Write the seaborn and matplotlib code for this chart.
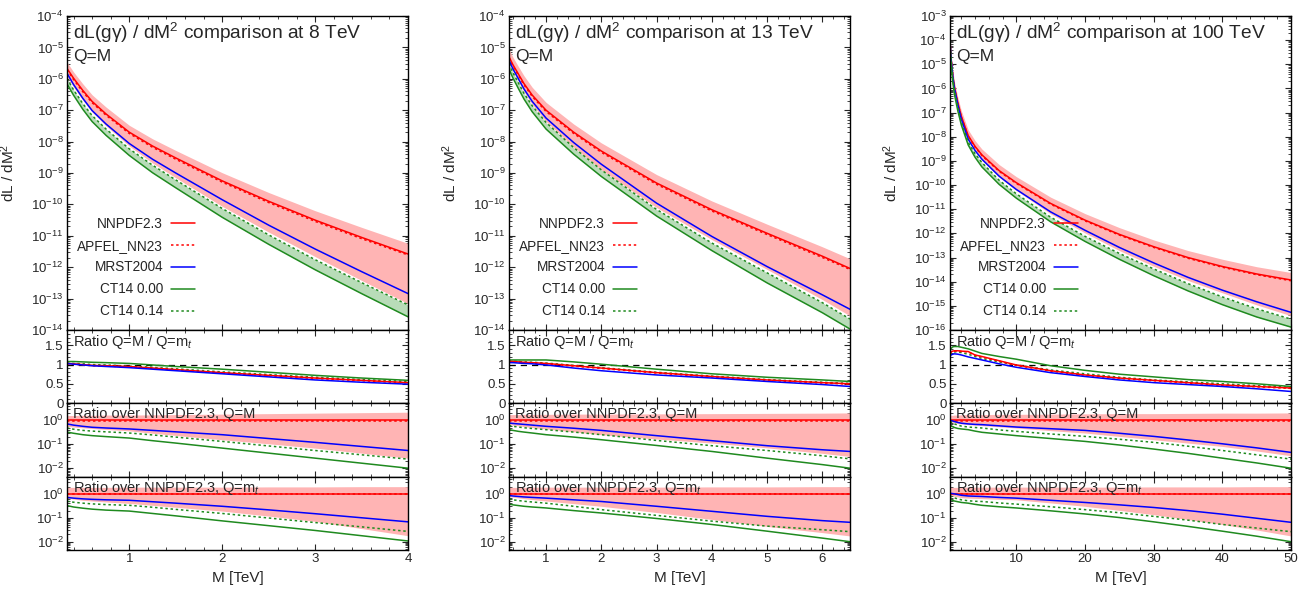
"""
dL(g gamma)/dM^2 comparison at 8, 13 and 100 TeV, with ratio panels.
Output: out.png
"""
import matplotlib
matplotlib.use('Agg')
import matplotlib.pyplot as plt
import matplotlib.ticker as mticker
import seaborn as sns
import numpy as np

sns.set_theme(style='ticks')
plt.rcParams.update({
    'font.family': ['Liberation Sans', 'DejaVu Sans'],
    'mathtext.fontset': 'custom',
    'mathtext.rm': 'Liberation Sans',
    'mathtext.it': 'Liberation Sans:italic',
    'mathtext.bf': 'Liberation Sans:bold',
    'xtick.direction': 'in', 'ytick.direction': 'in',
    'xtick.top': True, 'ytick.right': True,
    'axes.linewidth': 1.0, 'axes.edgecolor': 'black',
    'savefig.facecolor': 'white',
})

# ---------------- data (log10 values for the log panels) ----------------
# 8 TeV
M8 = [0.33, 0.4, 0.5, 0.6, 0.75, 1.0, 1.25, 1.5, 2.0, 2.5, 3.0, 3.5, 4.0]
nn8 = [-5.67, -5.98, -6.37, -6.72, -7.12, -7.7, -8.14, -8.52, -9.25, -9.9, -10.5, -11.05, -11.58]
ap8 = [-5.71, -6.02, -6.41, -6.76, -7.16, -7.74, -8.18, -8.56, -9.29, -9.94, -10.54, -11.09, -11.61]
mr8 = [-5.82, -6.18, -6.62, -7.01, -7.44, -8.06, -8.56, -9.0, -9.85, -10.66, -11.42, -12.14, -12.84]
ct0_8 = [-6.16, -6.52, -6.97, -7.36, -7.8, -8.44, -8.99, -9.47, -10.41, -11.27, -12.08, -12.84, -13.58]
ct14_8 = [-5.99, -6.35, -6.79, -7.17, -7.6, -8.23, -8.75, -9.22, -10.13, -10.97, -11.76, -12.49, -13.2]
nnhi8 = [-5.47, -5.78, -6.16, -6.51, -6.9, -7.48, -7.91, -8.28, -8.99, -9.62, -10.2, -10.73, -11.24]
nnlo8 = [-5.92, -6.26, -6.68, -7.06, -7.5, -8.14, -8.68, -9.15, -10.06, -10.88, -11.66, -12.42, -13.16]
# ratio Q=M / Q=mt (linear)
q_nn8 = [1.03, 1.02, 1.0, 0.98, 0.97, 0.95, 0.91, 0.87, 0.79, 0.72, 0.65, 0.59, 0.53]
q_ap8 = [1.02, 1.01, 0.99, 0.97, 0.96, 0.94, 0.9, 0.86, 0.78, 0.71, 0.64, 0.58, 0.52]
q_mr8 = [1.03, 1.01, 0.99, 0.97, 0.95, 0.92, 0.88, 0.84, 0.76, 0.68, 0.6, 0.54, 0.49]
q_ct0_8 = [1.08, 1.08, 1.07, 1.06, 1.05, 1.03, 0.99, 0.95, 0.88, 0.8, 0.72, 0.65, 0.59]
q_ct14_8 = [1.04, 1.03, 1.02, 1.0, 0.99, 0.96, 0.93, 0.89, 0.81, 0.74, 0.67, 0.61, 0.56]
# ratio over NNPDF2.3, Q=M (log10)
rm_ap8 = [-0.01, -0.01, -0.01, -0.01, -0.01, -0.01, -0.01, -0.01, -0.01, -0.01, -0.01, -0.01, -0.01]
rm_mr8 = [-0.15, -0.2, -0.25, -0.29, -0.32, -0.36, -0.42, -0.48, -0.6, -0.76, -0.92, -1.09, -1.26]
rm_ct0_8 = [-0.49, -0.54, -0.6, -0.64, -0.68, -0.74, -0.85, -0.95, -1.16, -1.37, -1.58, -1.79, -2.0]
rm_ct14_8 = [-0.32, -0.37, -0.42, -0.45, -0.48, -0.53, -0.61, -0.7, -0.88, -1.07, -1.26, -1.44, -1.62]
rm_hi8 = [0.2, 0.2, 0.21, 0.21, 0.22, 0.22, 0.23, 0.24, 0.26, 0.28, 0.3, 0.32, 0.34]
rm_lo8 = [-0.25, -0.28, -0.31, -0.34, -0.38, -0.44, -0.54, -0.63, -0.81, -0.98, -1.16, -1.37, -1.58]
# ratio over NNPDF2.3, Q=mt (log10)
rt_mr8 = [-0.15, -0.18, -0.21, -0.23, -0.25, -0.27, -0.33, -0.39, -0.52, -0.67, -0.83, -1.0, -1.17]
rt_ct0_8 = [-0.49, -0.55, -0.6, -0.64, -0.68, -0.72, -0.82, -0.92, -1.13, -1.33, -1.53, -1.75, -1.97]
rt_ct14_8 = [-0.31, -0.35, -0.39, -0.42, -0.45, -0.48, -0.56, -0.65, -0.82, -1.01, -1.2, -1.38, -1.57]
rt_hi8 = [0.27, 0.27, 0.27, 0.27, 0.27, 0.28, 0.28, 0.28, 0.28, 0.29, 0.29, 0.3, 0.3]
rt_lo8 = [-0.18, -0.22, -0.27, -0.3, -0.34, -0.4, -0.48, -0.56, -0.72, -0.93, -1.15, -1.45, -1.75]

# 13 TeV
M13 = [0.33, 0.4, 0.5, 0.6, 0.75, 1.0, 1.5, 2.0, 3.0, 4.0, 5.0, 6.0, 6.5]
nn13 = [-5.3, -5.55, -5.85, -6.15, -6.52, -7.0, -7.7, -8.3, -9.32, -10.17, -10.92, -11.65, -12.04]
ap13 = [-5.34, -5.59, -5.89, -6.19, -6.56, -7.04, -7.74, -8.34, -9.36, -10.21, -10.96, -11.69, -12.07]
mr13 = [-5.41, -5.68, -6.0, -6.32, -6.72, -7.25, -8.03, -8.72, -9.96, -11.02, -11.98, -12.88, -13.34]
ct0_13 = [-5.69, -5.97, -6.31, -6.64, -7.05, -7.6, -8.4, -9.11, -10.37, -11.47, -12.5, -13.45, -13.97]
ct14_13 = [-5.52, -5.8, -6.13, -6.46, -6.86, -7.39, -8.19, -8.9, -10.16, -11.23, -12.18, -13.13, -13.65]
nnhi13 = [-5.06, -5.31, -5.61, -5.9, -6.27, -6.75, -7.44, -8.04, -9.05, -9.89, -10.63, -11.35, -11.73]
nnlo13 = [-5.48, -5.75, -6.08, -6.41, -6.82, -7.36, -8.18, -8.9, -10.1, -11.12, -12.07, -13.03, -13.55]
q_nn13 = [1.08, 1.08, 1.07, 1.06, 1.05, 1.03, 0.97, 0.91, 0.79, 0.69, 0.6, 0.53, 0.5]
q_ap13 = [1.07, 1.07, 1.06, 1.05, 1.04, 1.02, 0.96, 0.9, 0.78, 0.68, 0.59, 0.52, 0.49]
q_mr13 = [1.05, 1.05, 1.04, 1.03, 1.02, 0.99, 0.91, 0.84, 0.73, 0.65, 0.56, 0.48, 0.43]
q_ct0_13 = [1.12, 1.12, 1.12, 1.12, 1.12, 1.12, 1.07, 1.01, 0.88, 0.76, 0.67, 0.6, 0.56]
q_ct14_13 = [1.09, 1.09, 1.08, 1.07, 1.06, 1.04, 0.98, 0.92, 0.8, 0.7, 0.61, 0.54, 0.51]
rm_ap13 = [-0.01, -0.01, -0.01, -0.01, -0.01, -0.01, -0.01, -0.01, -0.01, -0.01, -0.01, -0.01, -0.01]
rm_mr13 = [-0.11, -0.13, -0.15, -0.17, -0.2, -0.25, -0.33, -0.42, -0.64, -0.85, -1.06, -1.23, -1.3]
rm_ct0_13 = [-0.39, -0.42, -0.46, -0.49, -0.53, -0.6, -0.7, -0.81, -1.05, -1.3, -1.58, -1.85, -2.0]
rm_ct14_13 = [-0.22, -0.25, -0.28, -0.31, -0.34, -0.39, -0.49, -0.6, -0.84, -1.06, -1.26, -1.48, -1.61]
rm_hi13 = [0.24, 0.24, 0.24, 0.25, 0.25, 0.25, 0.26, 0.26, 0.27, 0.28, 0.29, 0.3, 0.31]
rm_lo13 = [-0.18, -0.2, -0.23, -0.26, -0.3, -0.36, -0.48, -0.6, -0.78, -0.95, -1.15, -1.38, -1.51]
rt_mr13 = [-0.07, -0.09, -0.11, -0.13, -0.15, -0.18, -0.25, -0.32, -0.52, -0.73, -0.94, -1.12, -1.19]
rt_ct0_13 = [-0.43, -0.46, -0.49, -0.52, -0.55, -0.59, -0.7, -0.8, -1.03, -1.28, -1.56, -1.85, -2.0]
rt_ct14_13 = [-0.22, -0.25, -0.28, -0.31, -0.34, -0.39, -0.52, -0.66, -0.9, -1.14, -1.35, -1.5, -1.58]
rt_hi13 = [0.27, 0.27, 0.27, 0.27, 0.28, 0.28, 0.28, 0.28, 0.28, 0.29, 0.29, 0.3, 0.3]
rt_lo13 = [-0.11, -0.14, -0.17, -0.2, -0.24, -0.3, -0.41, -0.52, -0.78, -1.07, -1.36, -1.62, -1.76]

# 100 TeV
M100 = [0.35, 0.5, 0.75, 1, 1.5, 2, 3, 4, 5, 7.5, 10, 15, 20, 25, 30, 35, 40, 45, 50]
nn100 = [-4.0, -4.75, -5.45, -5.95, -6.6, -7.15, -7.95, -8.4, -8.75, -9.4, -9.9, -10.76, -11.45,
         -12.04, -12.55, -13.0, -13.37, -13.68, -13.93]
ap100 = [-4.03, -4.78, -5.48, -5.98, -6.63, -7.18, -7.98, -8.43, -8.78, -9.43, -9.93, -10.79, -11.48,
         -12.07, -12.58, -13.03, -13.4, -13.71, -13.96]
mr100 = [-4.0, -4.76, -5.48, -6.0, -6.69, -7.27, -8.1, -8.57, -8.93, -9.63, -10.18, -11.11, -11.87,
         -12.58, -13.22, -13.82, -14.35, -14.83, -15.27]
ct0_100 = [-4.18, -4.97, -5.72, -6.25, -6.94, -7.51, -8.34, -8.85, -9.25, -9.97, -10.54, -11.52, -12.33,
           -13.07, -13.75, -14.38, -14.95, -15.46, -15.88]
ct14_100 = [-4.04, -4.82, -5.57, -6.1, -6.8, -7.39, -8.23, -8.7, -9.07, -9.8, -10.36, -11.33, -12.12,
            -12.83, -13.47, -14.08, -14.63, -15.12, -15.55]
nnhi100 = [-3.8, -4.54, -5.24, -5.73, -6.38, -6.92, -7.71, -8.16, -8.51, -9.15, -9.65, -10.5, -11.18,
           -11.76, -12.27, -12.71, -13.07, -13.38, -13.62]
nnlo100 = [-4.04, -4.81, -5.53, -6.05, -6.73, -7.3, -8.13, -8.6, -8.97, -9.67, -10.22, -11.19, -11.98,
           -12.71, -13.36, -13.95, -14.46, -14.96, -15.41]
q_nn100 = [1.29, 1.33, 1.35, 1.36, 1.36, 1.35, 1.34, 1.25, 1.21, 1.1, 0.99, 0.84, 0.73, 0.65, 0.59,
           0.53, 0.47, 0.43, 0.39]
q_ap100 = [1.28, 1.32, 1.34, 1.35, 1.35, 1.34, 1.33, 1.24, 1.2, 1.09, 0.98, 0.83, 0.72, 0.64, 0.58,
           0.52, 0.46, 0.42, 0.38]
q_mr100 = [1.21, 1.25, 1.27, 1.28, 1.27, 1.25, 1.2, 1.16, 1.12, 1.02, 0.93, 0.79, 0.69, 0.6, 0.53,
           0.48, 0.43, 0.37, 0.3]
q_ct0_100 = [1.34, 1.42, 1.46, 1.47, 1.47, 1.45, 1.41, 1.35, 1.29, 1.21, 1.14, 0.97, 0.85, 0.75, 0.68,
             0.61, 0.56, 0.5, 0.43]
q_ct14_100 = [1.25, 1.29, 1.32, 1.33, 1.33, 1.31, 1.27, 1.21, 1.16, 1.07, 0.99, 0.86, 0.76, 0.67, 0.6,
              0.55, 0.5, 0.45, 0.41]
rm_ap100 = [-0.01, -0.01, -0.01, -0.01, -0.01, -0.01, -0.01, -0.01, -0.01, -0.01, -0.01, -0.01, -0.01,
            -0.01, -0.01, -0.01, -0.01, -0.01, -0.01]
rm_mr100 = [0.0, -0.01, -0.03, -0.05, -0.09, -0.12, -0.15, -0.17, -0.18, -0.23, -0.28, -0.35, -0.42,
            -0.54, -0.67, -0.82, -0.98, -1.15, -1.34]
rm_ct0_100 = [-0.18, -0.22, -0.27, -0.3, -0.34, -0.36, -0.39, -0.45, -0.5, -0.57, -0.64, -0.76, -0.88,
              -1.03, -1.2, -1.38, -1.58, -1.78, -2.0]
rm_ct14_100 = [-0.04, -0.07, -0.12, -0.15, -0.2, -0.24, -0.28, -0.3, -0.32, -0.4, -0.46, -0.57, -0.67,
               -0.79, -0.92, -1.08, -1.26, -1.44, -1.62]
rm_hi100 = [0.2, 0.21, 0.21, 0.22, 0.22, 0.23, 0.24, 0.24, 0.24, 0.25, 0.25, 0.26, 0.27, 0.28, 0.28,
            0.29, 0.3, 0.3, 0.31]
rm_lo100 = [-0.04, -0.06, -0.08, -0.1, -0.13, -0.15, -0.18, -0.2, -0.22, -0.27, -0.32, -0.43, -0.53,
            -0.67, -0.81, -0.95, -1.09, -1.28, -1.48]
rt_mr100 = [0.03, 0.02, 0.01, 0.0, -0.03, -0.06, -0.09, -0.1, -0.11, -0.15, -0.18, -0.27, -0.36,
            -0.46, -0.57, -0.7, -0.85, -1.02, -1.19]
rt_ct0_100 = [-0.22, -0.25, -0.28, -0.3, -0.33, -0.36, -0.39, -0.44, -0.48, -0.54, -0.59, -0.71, -0.84,
              -0.99, -1.17, -1.36, -1.56, -1.77, -2.0]
rt_ct14_100 = [-0.08, -0.11, -0.14, -0.17, -0.21, -0.25, -0.29, -0.31, -0.32, -0.38, -0.43, -0.54, -0.66,
               -0.79, -0.94, -1.1, -1.28, -1.43, -1.58]
rt_hi100 = [0.26, 0.27, 0.27, 0.27, 0.27, 0.27, 0.28, 0.28, 0.28, 0.28, 0.28, 0.28, 0.28, 0.28, 0.29,
            0.29, 0.29, 0.3, 0.3]
rt_lo100 = [-0.04, -0.06, -0.08, -0.1, -0.13, -0.16, -0.18, -0.19, -0.2, -0.23, -0.25, -0.38, -0.52,
            -0.69, -0.87, -1.07, -1.28, -1.51, -1.76]

energies = ['8', '13', '100']
labels = ['NNPDF2.3', 'APFEL_NN23', 'MRST2004', 'CT14 0.00', 'CT14 0.14']

RED, BLUE, GREEN = '#ff0000', '#0000ff', '#1f8a1f'
PINK, LGREEN = '#ffb4b4', '#b8dcb8'
DOT = (0, (1.6, 1.8))

cols = [
    dict(M=M8, main=(nn8, ap8, mr8, ct0_8, ct14_8, nnhi8, nnlo8),
         q=(q_nn8, q_ap8, q_mr8, q_ct0_8, q_ct14_8),
         rm=(rm_ap8, rm_mr8, rm_ct0_8, rm_ct14_8, rm_hi8, rm_lo8),
         rt=(rm_ap8, rt_mr8, rt_ct0_8, rt_ct14_8, rt_hi8, rt_lo8),
         xlim=(0.33, 4.0), xmaj=1, xmin=0.2, dec=(-14, -4), left=67),
    dict(M=M13, main=(nn13, ap13, mr13, ct0_13, ct14_13, nnhi13, nnlo13),
         q=(q_nn13, q_ap13, q_mr13, q_ct0_13, q_ct14_13),
         rm=(rm_ap13, rm_mr13, rm_ct0_13, rm_ct14_13, rm_hi13, rm_lo13),
         rt=(rm_ap13, rt_mr13, rt_ct0_13, rt_ct14_13, rt_hi13, rt_lo13),
         xlim=(0.33, 6.5), xmaj=1, xmin=0.2, dec=(-14, -4), left=509),
    dict(M=M100, main=(nn100, ap100, mr100, ct0_100, ct14_100, nnhi100, nnlo100),
         q=(q_nn100, q_ap100, q_mr100, q_ct0_100, q_ct14_100),
         rm=(rm_ap100, rm_mr100, rm_ct0_100, rm_ct14_100, rm_hi100, rm_lo100),
         rt=(rm_ap100, rt_mr100, rt_ct0_100, rt_ct14_100, rt_hi100, rt_lo100),
         xlim=(0.35, 50), xmaj=10, xmin=2, dec=(-16, -3), left=950),
]

W, H = 1313, 590
TICK_FS = 9.5
fig = plt.figure(figsize=(W / 100, H / 100), dpi=100)


def pax(left, top, bottom, width=341):
    return fig.add_axes([left / W, 1 - bottom / H, width / W, (bottom - top) / H])


def style_log(ax, lo, hi, vmin, vmax):
    # only ticks inside the visible range
    ax.set_yscale('log')
    major = [10.0 ** k for k in range(lo, hi + 1)]
    minor = [m * 10.0 ** k for k in range(lo - 1, hi + 1) for m in range(2, 10)]
    minor = [v for v in minor if vmin <= v <= vmax]
    ax.yaxis.set_major_locator(mticker.FixedLocator(major))
    ax.yaxis.set_major_formatter(mticker.LogFormatterSciNotation())
    ax.yaxis.set_minor_locator(mticker.FixedLocator(minor))
    ax.yaxis.set_minor_formatter(mticker.NullFormatter())
    ax.set_ylim(vmin, vmax)


def line(ax, x, y, color, ls='-', lw=1.1):
    sns.lineplot(x=x, y=y, ax=ax, color=color, linestyle=ls, linewidth=lw,
                 sort=False, estimator=None, legend=False)


for i, c in enumerate(cols):
    M = np.array(c['M'])
    ax0 = pax(c['left'], 16, 330)
    ax1 = pax(c['left'], 330, 403)
    ax2 = pax(c['left'], 403, 476.5)
    ax3 = pax(c['left'], 476.5, 550)
    axes = [ax0, ax1, ax2, ax3]

    # --- main panel ---
    nn, ap, mr, ct0, ct14, hi, lo = [10 ** np.array(v) for v in c['main']]
    ax0.fill_between(M, lo, hi, color=PINK, lw=0, zorder=1)
    ax0.fill_between(M, ct0, ct14, color=LGREEN, lw=0, zorder=1)
    line(ax0, M, nn, RED)
    line(ax0, M, ap, RED, DOT)
    line(ax0, M, mr, BLUE)
    line(ax0, M, ct0, GREEN)
    line(ax0, M, ct14, GREEN, DOT)
    d0, d1 = c['dec']
    style_log(ax0, d0, d1, 10.0 ** d0, 10.0 ** d1)
    ax0.text(0.018, 0.946, f'dL(gγ) / dM$^2$ comparison at {energies[i]} TeV',
             transform=ax0.transAxes, fontsize=13.8, va='center', ha='left')
    ax0.text(0.018, 0.872, 'Q=M', transform=ax0.transAxes, fontsize=12.5,
             va='center', ha='left')
    handles = [
        plt.Line2D([], [], color=RED, lw=1.1),
        plt.Line2D([], [], color=RED, lw=1.1, ls=DOT),
        plt.Line2D([], [], color=BLUE, lw=1.1),
        plt.Line2D([], [], color=GREEN, lw=1.1),
        plt.Line2D([], [], color=GREEN, lw=1.1, ls=DOT),
    ]
    ax0.legend(handles, labels, loc='lower right', bbox_to_anchor=(0.392, 0.02),
               frameon=False, markerfirst=False, fontsize=9.8, handlelength=1.75,
               handletextpad=0.6, labelspacing=0.58, borderaxespad=0)

    # --- ratio Q=M / Q=mt ---
    qn, qa, qm, q0, q14 = [np.array(v) for v in c['q']]
    ax1.axhline(1.0, color='black', lw=0.9, ls=(0, (5, 4)), zorder=1)
    line(ax1, M, q0, GREEN)
    line(ax1, M, q14, GREEN, DOT)
    line(ax1, M, qn, RED)
    line(ax1, M, qa, RED, DOT)
    line(ax1, M, qm, BLUE)
    ax1.set_ylim(0, 1.9)
    ax1.yaxis.set_major_locator(mticker.FixedLocator([0, 0.5, 1, 1.5]))
    ax1.yaxis.set_major_formatter(mticker.FormatStrFormatter('%g'))
    ax1.yaxis.set_minor_locator(mticker.FixedLocator(
        [0.1, 0.2, 0.3, 0.4, 0.6, 0.7, 0.8, 0.9, 1.1, 1.2, 1.3, 1.4, 1.6, 1.7, 1.8]))
    ax1.text(0.018, 0.83, 'Ratio Q=M / Q=m$_t$', transform=ax1.transAxes,
             fontsize=10.5, va='center', ha='left')

    # --- ratios over NNPDF2.3 ---
    for ax, key, txt in [(ax2, 'rm', 'Ratio over NNPDF2.3, Q=M'),
                         (ax3, 'rt', 'Ratio over NNPDF2.3, Q=m$_t$')]:
        ra, rmr, r0, r14, rhi, rlo = [10 ** np.array(v) for v in c[key]]
        ax.fill_between(M, rlo, rhi, color=PINK, lw=0, zorder=1)
        line(ax, M, np.ones_like(M), RED)
        line(ax, M, ra, RED, DOT)
        line(ax, M, rmr, BLUE)
        line(ax, M, r0, GREEN)
        line(ax, M, r14, GREEN, DOT)
        style_log(ax, -2, 0, 0.0045, 5.3)
        ax.text(0.018, 0.85, txt, transform=ax.transAxes, fontsize=10.5,
                va='center', ha='left', zorder=5)

    for ax in axes:
        ax.set_xlim(*c['xlim'])
        ax.xaxis.set_major_locator(mticker.MultipleLocator(c['xmaj']))
        ax.xaxis.set_minor_locator(mticker.MultipleLocator(c['xmin']))
        ax.tick_params(which='major', length=4, width=0.8, top=True, right=True,
                       labelsize=TICK_FS, pad=2.5)
        ax.tick_params(which='minor', length=2.2, width=0.6, top=True, right=True)
        if ax is not ax3:
            ax.tick_params(axis='x', labelbottom=False)
    ax0.set_ylabel('dL / dM$^2$', fontsize=11)
    ax0.yaxis.set_label_coords(-0.148, 0.5)
    ax3.set_xlabel('M [TeV]', fontsize=11)
    ax3.xaxis.set_label_coords(0.5, -0.29)

plt.savefig('out.png', dpi=100)
plt.close()
